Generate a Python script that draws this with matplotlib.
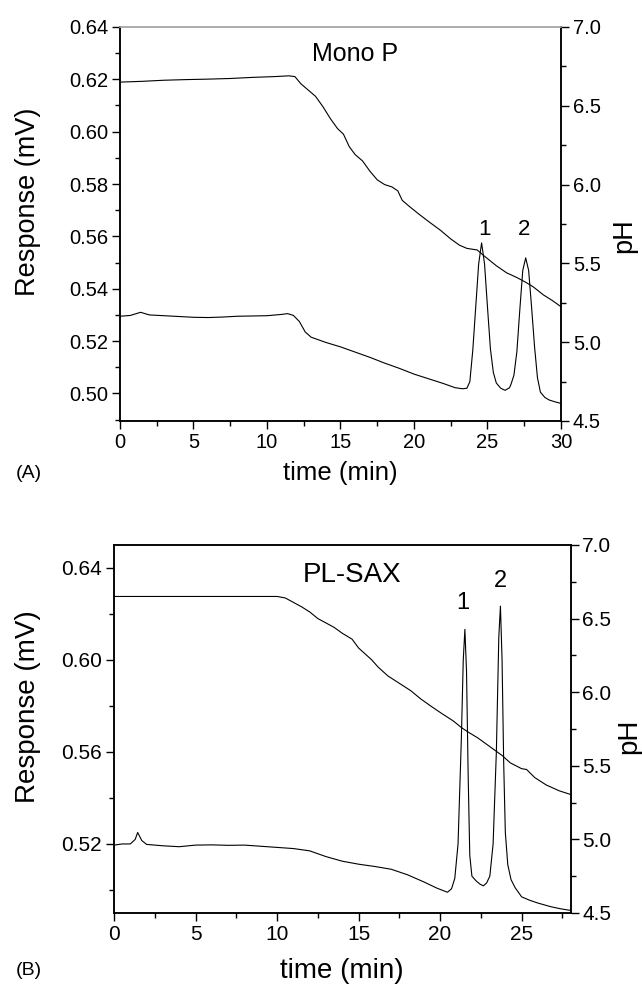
import numpy as np
import matplotlib
matplotlib.use("Agg")
import matplotlib.pyplot as plt
from matplotlib.ticker import MultipleLocator

plt.rcParams['font.family'] = ['Liberation Sans', 'DejaVu Sans']

# ---- panel A : Mono P ----
a_time = [0, 0.7, 1.4, 2.0, 3, 4, 5, 6, 7, 8, 9, 10, 11, 11.4, 11.8, 12.2, 12.6,
          13.0, 14, 15, 16, 17, 18, 19, 20, 21, 22, 22.8, 23.3, 23.6, 23.8, 24.0,
          24.2, 24.4, 24.6, 24.8, 25.0, 25.2, 25.4, 25.6, 25.9, 26.2, 26.5, 26.6,
          26.8, 27.0, 27.2, 27.4, 27.6, 27.8, 28.0, 28.2, 28.4, 28.6, 28.9, 29.2,
          29.6, 30.0]
a_resp = [0.5295, 0.5298, 0.5310, 0.5300, 0.5297, 0.5294, 0.5291, 0.5290, 0.5292,
          0.5295, 0.5296, 0.5297, 0.5302, 0.5305, 0.5298, 0.5275, 0.5235, 0.5215,
          0.5195, 0.5178, 0.5158, 0.5138, 0.5116, 0.5096, 0.5074, 0.5056, 0.5038,
          0.5022, 0.5018, 0.5020, 0.5045, 0.5165, 0.5330, 0.5495, 0.5575, 0.5495,
          0.5330, 0.5170, 0.5080, 0.5040, 0.5020, 0.5012, 0.5022, 0.5035, 0.5070,
          0.5160, 0.5320, 0.5470, 0.5518, 0.5470, 0.5330, 0.5180, 0.5060, 0.5005,
          0.4985, 0.4975, 0.4968, 0.4962]
a_ph_time = [0, 1.5, 3, 4.5, 6, 7.5, 9, 10.5, 11.5, 11.9, 12.3, 12.8, 13.3, 13.8,
             14.3, 14.8, 15.2, 15.6, 16.0, 16.5, 17.0, 17.5, 18.0, 18.5, 18.9, 19.2,
             19.7, 20.3, 21.0, 21.8, 22.5, 23.1, 23.6, 24.3, 24.8, 25.6, 26.3, 27.0,
             27.6, 28.1, 28.8, 29.4, 30.0]
a_ph = [6.650, 6.655, 6.662, 6.666, 6.669, 6.673, 6.680, 6.685, 6.690, 6.685, 6.640,
        6.600, 6.560, 6.495, 6.420, 6.355, 6.320, 6.240, 6.190, 6.150, 6.085, 6.030,
        6.000, 5.985, 5.960, 5.900, 5.860, 5.815, 5.765, 5.710, 5.655, 5.615, 5.595,
        5.585, 5.545, 5.485, 5.440, 5.410, 5.380, 5.352, 5.300, 5.265, 5.225]

# ---- panel B : PL-SAX ----
b_time = [0, 0.5, 1.0, 1.3, 1.45, 1.7, 2.0, 3.0, 4.0, 5.0, 6.0, 7.0, 8.0, 9.0, 10.0,
          11.0, 12.0, 13.0, 14.0, 15.0, 16.0, 17.0, 18.0, 19.0, 19.8, 20.45, 20.7,
          20.9, 21.1, 21.3, 21.42, 21.52, 21.62, 21.72, 21.82, 21.95, 22.2, 22.45,
          22.65, 22.85, 23.05, 23.25, 23.45, 23.6, 23.7, 23.8, 23.9, 24.0, 24.15,
          24.35, 24.6, 25.0, 25.5, 26.0, 26.8, 27.4, 28.0]
b_resp = [0.5195, 0.5200, 0.5200, 0.5220, 0.5250, 0.5215, 0.5198, 0.5192, 0.5188,
          0.5195, 0.5196, 0.5194, 0.5195, 0.5190, 0.5185, 0.5180, 0.5170, 0.5145,
          0.5125, 0.5112, 0.5102, 0.5090, 0.5066, 0.5035, 0.5008, 0.4990, 0.5005,
          0.5050, 0.5200, 0.5650, 0.6000, 0.6133, 0.5950, 0.5500, 0.5150, 0.5060,
          0.5040, 0.5025, 0.5018, 0.5030, 0.5060, 0.5200, 0.5600, 0.6100, 0.6234,
          0.6000, 0.5550, 0.5250, 0.5110, 0.5045, 0.5010, 0.4970, 0.4955, 0.4943,
          0.4927, 0.4918, 0.4911]
b_ph_time = [0, 5, 10.0, 10.5, 11.0, 11.5, 12.0, 12.5, 13.0, 13.5, 14.0, 14.6, 15.0,
             15.3, 15.8, 16.2, 16.8, 17.5, 18.2, 18.8, 19.5, 20.1, 20.8, 21.3, 21.7,
             22.3, 22.8, 23.3, 23.8, 24.3, 25.0, 25.3, 25.8, 26.5, 27.3, 28.0]
b_ph = [6.65, 6.65, 6.65, 6.64, 6.61, 6.58, 6.545, 6.50, 6.47, 6.44, 6.40, 6.36,
        6.30, 6.27, 6.22, 6.17, 6.11, 6.06, 6.01, 5.955, 5.90, 5.855, 5.805, 5.76,
        5.73, 5.69, 5.65, 5.61, 5.57, 5.52, 5.48, 5.475, 5.42, 5.37, 5.33, 5.305]

fig = plt.figure(figsize=(6.42, 9.84), dpi=100)


def style(ax, axr, xmax, ymin, ymax, ymajor, fs_tick):
    ax.set_xlim(0, xmax)
    ax.set_ylim(ymin, ymax)
    axr.set_ylim(4.5, 7.0)
    ax.xaxis.set_major_locator(MultipleLocator(5))
    ax.xaxis.set_minor_locator(MultipleLocator(2.5))
    ax.yaxis.set_major_locator(MultipleLocator(ymajor))
    ax.yaxis.set_minor_locator(MultipleLocator(ymajor / 2))
    axr.yaxis.set_major_locator(MultipleLocator(0.5))
    axr.yaxis.set_minor_locator(MultipleLocator(0.25))
    for a in (ax, axr):
        a.tick_params(which='major', direction='out', length=5.5, width=1,
                      labelsize=fs_tick, pad=3)
        a.tick_params(which='minor', direction='out', length=3.5, width=1)
        for s in a.spines.values():
            s.set_linewidth(1.1)
    ax.tick_params(top=False, right=False, which='both')
    axr.tick_params(left=False, which='both')
    ax.yaxis.set_major_formatter(plt.FormatStrFormatter('%.2f'))
    axr.yaxis.set_major_formatter(plt.FormatStrFormatter('%.1f'))


# panel A
axA = fig.add_axes([0.1869, 0.5722, 0.6869, 0.4004])
axAr = axA.twinx()
style(axA, axAr, 30, 0.4895, 0.64, 0.02, 14.5)
axA.spines['top'].set_color('#aaaaaa')
axAr.spines['top'].set_color('#aaaaaa')
axA.plot(a_time, a_resp, color='black', lw=0.8)
axAr.plot(a_ph_time, a_ph, color='black', lw=0.8)
axA.set_xlabel('time (min)', fontsize=18.5, labelpad=7)
axA.set_ylabel('Response (mV)', fontsize=19.5)
axA.yaxis.set_label_coords(-0.178, 0.555)
axAr.set_ylabel('pH', fontsize=19.5)
axAr.yaxis.set_label_coords(1.113, 0.47)
axA.text(16, 0.6297, 'Mono P', fontsize=18, ha='center', va='center')
axA.text(24.8, 0.5627, '1', fontsize=16, ha='center', va='center')
axA.text(27.5, 0.5627, '2', fontsize=16, ha='center', va='center')
fig.text(0.045, 0.519, '(A)', fontsize=14, ha='center', va='center')

# panel B
axB = fig.add_axes([0.1776, 0.0722, 0.7111, 0.374])
axBr = axB.twinx()
style(axB, axBr, 28, 0.49, 0.65, 0.04, 15)
axB.plot(b_time, b_resp, color='black', lw=0.8)
axBr.plot(b_ph_time, b_ph, color='black', lw=0.8)
axB.set_xlabel('time (min)', fontsize=20, labelpad=10)
axB.set_ylabel('Response (mV)', fontsize=20)
axB.yaxis.set_label_coords(-0.16, 0.56)
axBr.set_ylabel('pH', fontsize=20)
axBr.yaxis.set_label_coords(1.1, 0.48)
axB.text(14.6, 0.6371, 'PL-SAX', fontsize=20, ha='center', va='center')
axB.text(21.4, 0.6248, '1', fontsize=17, ha='center', va='center')
axB.text(23.7, 0.6342, '2', fontsize=17, ha='center', va='center')
fig.text(0.045, 0.0142, '(B)', fontsize=14, ha='center', va='center')

fig.savefig('out.png', dpi=100)
